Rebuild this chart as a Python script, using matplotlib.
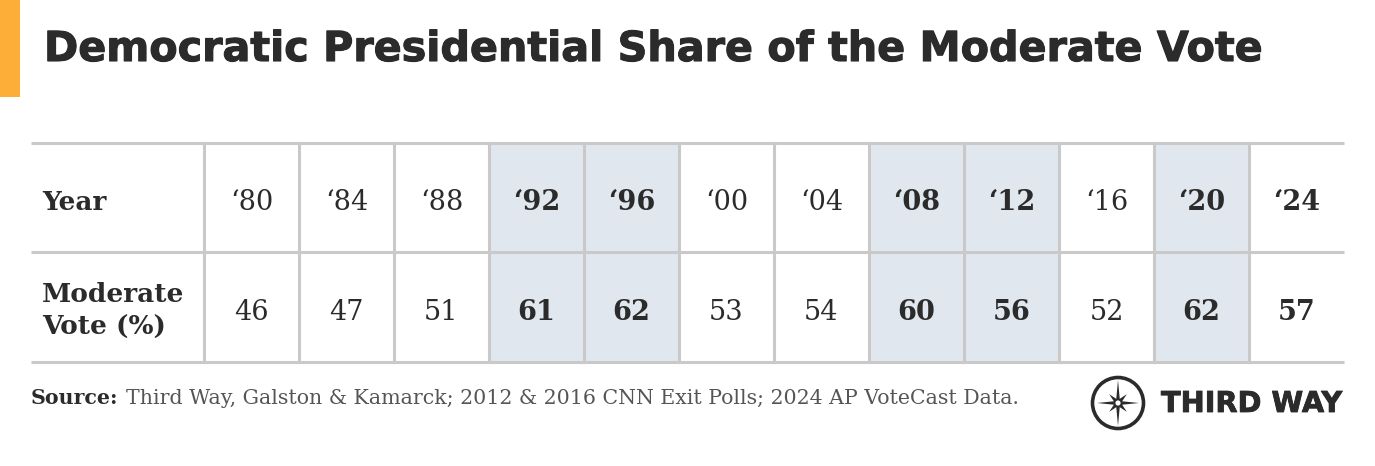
import numpy as np
import matplotlib
matplotlib.use("Agg")
import matplotlib.pyplot as plt
import matplotlib.patheffects as pe
from matplotlib.patches import Rectangle, Circle, Polygon

# данные таблицы
years = ["‘80", "‘84", "‘88", "‘92", "‘96", "‘00", "‘04", "‘08", "‘12", "‘16", "‘20", "‘24"]
moderate_vote = [46, 47, 51, 61, 62, 53, 54, 60, 56, 52, 62, 57]
shaded = [False, False, False, True, True, False, False, True, True, False, True, False]
bold = [False, False, False, True, True, False, False, True, True, False, True, True]

title = "Democratic Presidential Share of the Moderate Vote"
row_labels = ["Year", "Moderate\nVote (%)"]
source_bold = "Source:"
source_text = "Third Way, Galston & Kamarck; 2012 & 2016 CNN Exit Polls; 2024 AP VoteCast Data."
logo_text = "THIRD WAY"

W, H = 1375, 466
dark = "#2b2b2b"
grid = "#c9c9c9"
shade = "#e1e7ee"
serif = "DejaVu Serif"
sans = ["DejaVu Sans"]
# немного утолщаем жирный шрифт
heavy_title = [pe.withStroke(linewidth=0.8, foreground=dark)]
heavy_logo = [pe.withStroke(linewidth=0.6, foreground=dark)]

fig = plt.figure(figsize=(W / 100, H / 100), dpi=100)
ax = fig.add_axes([0, 0, 1, 1])
ax.set_xlim(0, W)
ax.set_ylim(H, 0)
ax.axis("off")
renderer = fig.canvas.get_renderer()


def fit_text(x, y, s, width, size, **kw):
    # подгоняем размер шрифта под нужную ширину в пикселях
    t = ax.text(x, y, s, fontsize=size, **kw)
    w = t.get_window_extent(renderer).width
    t.set_fontsize(size * width / w)
    return t


# оранжевая полоска и заголовок
ax.add_patch(Rectangle((0, 0), 20, 97, color="#fdae38", lw=0))
fit_text(44, 50, title, 1217, 30, family=sans, weight="bold", color=dark,
         va="center", ha="left", path_effects=heavy_title)

# геометрия таблицы
left, first_w, col_w = 31, 173, 95
top, mid, bottom = 143, 252, 362
right = left + first_w + col_w * len(years)

for i, (yr, v) in enumerate(zip(years, moderate_vote)):
    x0 = left + first_w + i * col_w
    if shaded[i]:
        ax.add_patch(Rectangle((x0, top), col_w, bottom - top, color=shade, lw=0, zorder=0))
    wt = "bold" if bold[i] else "normal"
    ax.text(x0 + col_w / 2, 202, yr, family=serif, weight=wt, fontsize=19.5,
            color=dark, ha="center", va="center")
    ax.text(x0 + col_w / 2, 312, str(v), family=serif, weight=wt, fontsize=19.5,
            color=dark, ha="center", va="center")

# линии сетки
for yy in (top, mid, bottom):
    ax.plot([left, right], [yy, yy], color=grid, lw=2.2, solid_capstyle="butt", zorder=1)
for i in range(len(years)):
    xx = left + first_w + i * col_w
    ax.plot([xx, xx], [top, bottom], color=grid, lw=2.2, zorder=1)

ax.text(42, 202, row_labels[0], family=serif, weight="bold", fontsize=19,
        color=dark, ha="left", va="center")
ax.text(42, 311, row_labels[1], family=serif, weight="bold", fontsize=19,
        color=dark, ha="left", va="center", linespacing=1.4)

# источник: подгоняем общую ширину под оригинал
src_size = 12.5
t1 = ax.text(31, 398, source_bold, family=serif, weight="bold", fontsize=src_size,
             color=dark, ha="left", va="center")
w1 = t1.get_window_extent(renderer).width
t2 = ax.text(31 + w1 + 6, 398, source_text, family=serif, fontsize=src_size,
             color="#555555", ha="left", va="center")
w2 = t2.get_window_extent(renderer).width
k = 989 / (w1 + 6 + w2)
t1.set_fontsize(src_size * k)
t2.set_fontsize(src_size * k)
t2.set_x(31 + (w1 + 6) * k)

# логотип
cx, cy = 1118, 403
ax.add_patch(Circle((cx, cy), 25.5, fill=False, ec=dark, lw=2.6))
pts = []
for a in np.deg2rad(np.arange(0, 360, 45)):
    deg = int(np.round(np.rad2deg(a)))
    if deg % 90 == 0:
        r = 23 if deg % 180 else 21
    else:
        r = 12.5
    pts.append((cx + r * np.cos(a), cy - r * np.sin(a)))
    b = a + np.deg2rad(22.5)
    pts.append((cx + 4.5 * np.cos(b), cy - 4.5 * np.sin(b)))
ax.add_patch(Polygon(pts, closed=True, color=dark, lw=0))
ax.add_patch(Circle((cx, cy), 2.6, color="white", lw=0))
fit_text(1161, 404, logo_text, 181, 20, family=sans, weight="bold", color=dark,
         ha="left", va="center", path_effects=heavy_logo)

fig.savefig("out.png", dpi=100, facecolor="white")
